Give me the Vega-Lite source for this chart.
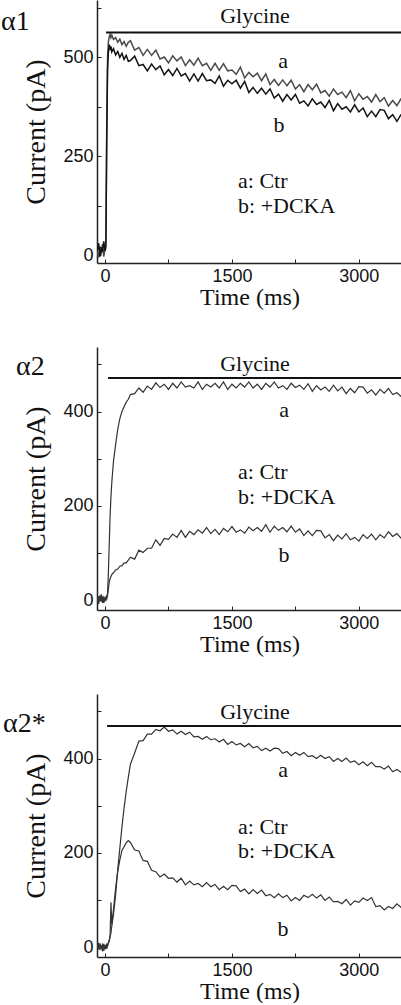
{
  "$schema": "https://vega.github.io/schema/vega-lite/v6.json",
  "padding": {"left": 0, "top": 0, "right": 0, "bottom": 0},
  "background": "white",
  "bounds": "flush",
  "spacing": 84,
  "config": {
    "view": {"stroke": null},
    "axis": {
      "grid": false, "tickSize": -4, "tickColor": "#222", "tickWidth": 1,
      "domainColor": "#222", "domainWidth": 1.5,
      "labelFont": "Liberation Sans, Arial, sans-serif", "labelFontSize": 18, "labelColor": "#111",
      "labelFlush": false, "labelOverlap": false,
      "titleFont": "Liberation Serif, Times New Roman, DejaVu Serif, serif", "titleFontWeight": "normal", "titleColor": "#111"
    },
    "axisX": {"labelPadding": 8, "titleFontSize": 24, "titlePadding": 0},
    "axisY": {"labelPadding": 8, "titleFontSize": 28, "titlePadding": 12}
  },
  "datasets": {
    "traces": [
      {"t":-90,"a1":8,"b1":12,"a2":4,"b2":-5,"a3":6,"b3":-3},
      {"t":-75,"a1":-6,"b1":30,"a2":-8,"b2":8,"a3":-5,"b3":9},
      {"t":-60,"a1":22,"b1":-4,"a2":10,"b2":-2,"a3":8,"b3":-6},
      {"t":-45,"a1":2,"b1":20,"a2":-3,"b2":12,"a3":-2,"b3":4},
      {"t":-30,"a1":28,"b1":8,"a2":8,"b2":-6,"a3":5,"b3":-9},
      {"t":-15,"a1":-4,"b1":35,"a2":-6,"b2":6,"a3":-8,"b3":7},
      {"t":0,"a1":18,"b1":10,"a2":5,"b2":-3,"a3":3,"b3":-2},
      {"t":10,"a1":30,"b1":20,"a2":2,"b2":8,"a3":-4,"b3":5},
      {"t":20,"a1":320,"b1":290,"a2":8,"b2":2,"a3":5,"b3":-4},
      {"t":30,"a1":500,"b1":470,"a2":15,"b2":10,"a3":2,"b3":6},
      {"t":40,"a1":540,"b1":515,"a2":60,"b2":25,"a3":8,"b3":10},
      {"t":50,"a1":552,"b1":532,"a2":120,"b2":38,"a3":12,"b3":15},
      {"t":60,"a1":558,"b1":522,"a2":180,"b2":46,"a3":22,"b3":25},
      {"t":70,"a1":550,"b1":528,"a2":220,"b2":50,"a3":30,"b3":95},
      {"t":80,"a1":556,"b1":514,"a2":250,"b2":54,"a3":45,"b3":48},
      {"t":100,"a1":545,"b1":522,"a2":295,"b2":58,"a3":70,"b3":80},
      {"t":125,"a1":550,"b1":506,"a2":330,"b2":64,"a3":110,"b3":125},
      {"t":150,"a1":538,"b1":515,"a2":362,"b2":66,"a3":165,"b3":160},
      {"t":175,"a1":546,"b1":500,"a2":385,"b2":72,"a3":210,"b3":185},
      {"t":200,"a1":532,"b1":510,"a2":400,"b2":73,"a3":255,"b3":205},
      {"t":225,"a1":540,"b1":495,"a2":410,"b2":79,"a3":295,"b3":213},
      {"t":250,"a1":528,"b1":505,"a2":420,"b2":79,"a3":330,"b3":221},
      {"t":275,"a1":538,"b1":490,"a2":426,"b2":85,"a3":360,"b3":226},
      {"t":300,"a1":542,"b1":492,"a2":436,"b2":91,"a3":388,"b3":222},
      {"t":350,"a1":518,"b1":503,"a2":438,"b2":87,"a3":412,"b3":206},
      {"t":400,"a1":525,"b1":479,"a2":450,"b2":106,"a3":437,"b3":204},
      {"t":450,"a1":505,"b1":482,"a2":441,"b2":101,"a3":438,"b3":184},
      {"t":500,"a1":520,"b1":466,"a2":454,"b2":110,"a3":452,"b3":182},
      {"t":550,"a1":505,"b1":483,"a2":447,"b2":110,"a3":452,"b3":163},
      {"t":600,"a1":518,"b1":469,"a2":461,"b2":128,"a3":462,"b3":160},
      {"t":650,"a1":496,"b1":478,"a2":451,"b2":116,"a3":459,"b3":149},
      {"t":700,"a1":501,"b1":456,"a2":458,"b2":131,"a3":467,"b3":155},
      {"t":750,"a1":486,"b1":469,"a2":447,"b2":129,"a3":458,"b3":146},
      {"t":800,"a1":504,"b1":454,"a2":460,"b2":140,"a3":461,"b3":147},
      {"t":850,"a1":491,"b1":472,"a2":450,"b2":133,"a3":452,"b3":138},
      {"t":900,"a1":501,"b1":453,"a2":463,"b2":148,"a3":458,"b3":146},
      {"t":950,"a1":479,"b1":459,"a2":452,"b2":133,"a3":451,"b3":132},
      {"t":1000,"a1":494,"b1":440,"a2":455,"b2":146,"a3":456,"b3":140},
      {"t":1050,"a1":480,"b1":458,"a2":450,"b2":139,"a3":446,"b3":132},
      {"t":1100,"a1":498,"b1":440,"a2":463,"b2":149,"a3":447,"b3":135},
      {"t":1150,"a1":479,"b1":459,"a2":447,"b2":142,"a3":441,"b3":128},
      {"t":1200,"a1":485,"b1":441,"a2":458,"b2":154,"a3":447,"b3":137},
      {"t":1250,"a1":467,"b1":443,"a2":452,"b2":141,"a3":440,"b3":128},
      {"t":1300,"a1":485,"b1":434,"a2":460,"b2":150,"a3":442,"b3":133},
      {"t":1350,"a1":467,"b1":453,"a2":450,"b2":139,"a3":435,"b3":122},
      {"t":1400,"a1":484,"b1":427,"a2":463,"b2":152,"a3":441,"b3":129},
      {"t":1450,"a1":466,"b1":442,"a2":447,"b2":145,"a3":430,"b3":122},
      {"t":1500,"a1":468,"b1":433,"a2":458,"b2":156,"a3":436,"b3":131},
      {"t":1550,"a1":457,"b1":442,"a2":450,"b2":144,"a3":429,"b3":130},
      {"t":1600,"a1":475,"b1":422,"a2":460,"b2":149,"a3":432,"b3":118},
      {"t":1650,"a1":448,"b1":439,"a2":452,"b2":142,"a3":425,"b3":123},
      {"t":1700,"a1":462,"b1":411,"a2":463,"b2":155,"a3":432,"b3":113},
      {"t":1750,"a1":451,"b1":424,"a2":450,"b2":147,"a3":423,"b3":122},
      {"t":1800,"a1":460,"b1":409,"a2":458,"b2":154,"a3":426,"b3":114},
      {"t":1850,"a1":441,"b1":422,"a2":447,"b2":146,"a3":417,"b3":121},
      {"t":1900,"a1":458,"b1":407,"a2":460,"b2":160,"a3":422,"b3":109},
      {"t":1950,"a1":431,"b1":420,"a2":452,"b2":144,"a3":416,"b3":112},
      {"t":2000,"a1":444,"b1":397,"a2":463,"b2":157,"a3":422,"b3":105},
      {"t":2050,"a1":429,"b1":407,"a2":450,"b2":148,"a3":421,"b3":113},
      {"t":2100,"a1":443,"b1":389,"a2":455,"b2":154,"a3":411,"b3":105},
      {"t":2150,"a1":428,"b1":406,"a2":447,"b2":145,"a3":415,"b3":110},
      {"t":2200,"a1":442,"b1":392,"a2":460,"b2":157,"a3":406,"b3":98},
      {"t":2250,"a1":420,"b1":406,"a2":451,"b2":144,"a3":413,"b3":105},
      {"t":2300,"a1":431,"b1":384,"a2":456,"b2":151,"a3":407,"b3":99},
      {"t":2350,"a1":413,"b1":390,"a2":447,"b2":137,"a3":413,"b3":110},
      {"t":2400,"a1":431,"b1":377,"a2":459,"b2":147,"a3":404,"b3":105},
      {"t":2450,"a1":418,"b1":395,"a2":443,"b2":137,"a3":406,"b3":112},
      {"t":2500,"a1":432,"b1":381,"a2":455,"b2":148,"a3":400,"b3":104},
      {"t":2550,"a1":410,"b1":387,"a2":446,"b2":147,"a3":407,"b3":111},
      {"t":2600,"a1":416,"b1":373,"a2":452,"b2":132,"a3":400,"b3":99},
      {"t":2650,"a1":402,"b1":391,"a2":443,"b2":139,"a3":404,"b3":106},
      {"t":2700,"a1":420,"b1":365,"a2":456,"b2":126,"a3":394,"b3":96},
      {"t":2750,"a1":406,"b1":383,"a2":444,"b2":138,"a3":400,"b3":97},
      {"t":2800,"a1":412,"b1":369,"a2":452,"b2":130,"a3":394,"b3":92},
      {"t":2850,"a1":398,"b1":375,"a2":438,"b2":141,"a3":401,"b3":101},
      {"t":2900,"a1":416,"b1":362,"a2":449,"b2":128,"a3":392,"b3":89},
      {"t":2950,"a1":390,"b1":380,"a2":440,"b2":133,"a3":395,"b3":98},
      {"t":3000,"a1":408,"b1":362,"a2":453,"b2":125,"a3":387,"b3":95},
      {"t":3050,"a1":394,"b1":372,"a2":452,"b2":139,"a3":393,"b3":104},
      {"t":3100,"a1":401,"b1":350,"a2":439,"b2":131,"a3":385,"b3":99},
      {"t":3150,"a1":387,"b1":364,"a2":446,"b2":140,"a3":392,"b3":105},
      {"t":3200,"a1":406,"b1":350,"a2":435,"b2":128,"a3":383,"b3":86},
      {"t":3250,"a1":388,"b1":368,"a2":447,"b2":139,"a3":383,"b3":88},
      {"t":3300,"a1":398,"b1":366,"a2":439,"b2":132,"a3":378,"b3":79},
      {"t":3350,"a1":377,"b1":345,"a2":449,"b2":145,"a3":384,"b3":86},
      {"t":3400,"a1":391,"b1":355,"a2":436,"b2":135,"a3":372,"b3":82},
      {"t":3450,"a1":378,"b1":338,"a2":440,"b2":141,"a3":377,"b3":92},
      {"t":3500,"a1":396,"b1":356,"a2":432,"b2":131,"a3":371,"b3":84}
    ],
    "bars": [
      {"panel":"p1","t0":12,"t1":3500,"v":563},
      {"panel":"p2","t0":36,"t1":3500,"v":471},
      {"panel":"p3","t0":24,"t1":3500,"v":469}
    ],
    "notes": [
      {"panel":"p1","kind":"h","text":"α1","t":-1230,"v":569},
      {"panel":"p1","kind":"c","text":"Glycine","t":1773,"v":588},
      {"panel":"p1","kind":"c","text":"a","t":2104,"v":473},
      {"panel":"p1","kind":"c","text":"b","t":2057,"v":312},
      {"panel":"p1","kind":"l","text":"a: Ctr","t":1572,"v":170},
      {"panel":"p1","kind":"l","text":"b: +DCKA","t":1572,"v":106},
      {"panel":"p2","kind":"h","text":"α2","t":-1052,"v":478},
      {"panel":"p2","kind":"c","text":"Glycine","t":1773,"v":487},
      {"panel":"p2","kind":"c","text":"a","t":2116,"v":388},
      {"panel":"p2","kind":"c","text":"b","t":2116,"v":81},
      {"panel":"p2","kind":"l","text":"a: Ctr","t":1572,"v":258},
      {"panel":"p2","kind":"l","text":"b: +DCKA","t":1572,"v":204},
      {"panel":"p3","kind":"h","text":"α2*","t":-1206,"v":456},
      {"panel":"p3","kind":"c","text":"Glycine","t":1773,"v":484},
      {"panel":"p3","kind":"c","text":"a","t":2104,"v":361},
      {"panel":"p3","kind":"c","text":"b","t":2104,"v":23},
      {"panel":"p3","kind":"l","text":"a: Ctr","t":1572,"v":240},
      {"panel":"p3","kind":"l","text":"b: +DCKA","t":1572,"v":189}
    ]
  },
  "vconcat": [
    {
      "width": 305, "height": 263,
      "encoding": {
        "x": {"field": "t", "type": "quantitative", "scale": {"domain": [-95, 3510], "nice": false, "zero": false},
              "axis": {"title": "Time (ms)", "values": [0, 750, 1500, 2250, 3000], "format": "d", "labelExpr": "datum.value % 1500 === 0 ? datum.label : ''"}}
      },
      "layer": [
        {"data": {"name": "traces"}, "mark": {"type": "line", "color": "#4a4a4a", "strokeWidth": 1.5, "clip": true},
         "encoding": {"y": {"field": "a1", "type": "quantitative", "scale": {"domain": [-20, 645], "nice": false, "zero": false},
           "axis": {"title": "Current (pA)", "values": [0, 125, 250, 375, 500, 625], "labelExpr": "datum.value % 250 === 0 ? datum.label : ''",
                    "labelFontSize": {"condition": {"test": "datum.value % 250 !== 0", "value": 0}, "value": 18}}}}},
        {"data": {"name": "traces"}, "mark": {"type": "line", "color": "#141414", "strokeWidth": 1.5, "clip": true},
         "encoding": {"y": {"field": "b1", "type": "quantitative"}}},
        {"data": {"name": "bars"}, "transform": [{"filter": "datum.panel === 'p1'"}], "mark": {"type": "rule", "color": "#111", "strokeWidth": 2},
         "encoding": {"x": {"field": "t0", "type": "quantitative"}, "x2": {"field": "t1"}, "y": {"field": "v", "type": "quantitative"}}},
        {"data": {"name": "notes"}, "transform": [{"filter": "datum.panel === 'p1' && datum.kind === 'c'"}], "mark": {"type": "text", "font": "Liberation Serif, Times New Roman, DejaVu Serif, serif", "fontSize": 22, "color": "#111", "align": "center", "baseline": "alphabetic"},
         "encoding": {"y": {"field": "v", "type": "quantitative"}, "text": {"field": "text"}}},
        {"data": {"name": "notes"}, "transform": [{"filter": "datum.panel === 'p1' && datum.kind === 'l'"}], "mark": {"type": "text", "font": "Liberation Serif, Times New Roman, DejaVu Serif, serif", "fontSize": 22, "color": "#111", "align": "left", "baseline": "alphabetic"},
         "encoding": {"y": {"field": "v", "type": "quantitative"}, "text": {"field": "text"}}},
        {"data": {"name": "notes"}, "transform": [{"filter": "datum.panel === 'p1' && datum.kind === 'h'"}], "mark": {"type": "text", "font": "Liberation Serif, Times New Roman, DejaVu Serif, serif", "fontSize": 28, "color": "#111", "align": "left", "baseline": "alphabetic", "clip": false},
         "encoding": {"y": {"field": "v", "type": "quantitative"}, "text": {"field": "text"}}}
      ]
    },
    {
      "width": 305, "height": 263,
      "encoding": {
        "x": {"field": "t", "type": "quantitative", "scale": {"domain": [-95, 3510], "nice": false, "zero": false},
              "axis": {"title": "Time (ms)", "values": [0, 750, 1500, 2250, 3000], "format": "d", "labelExpr": "datum.value % 1500 === 0 ? datum.label : ''"}}
      },
      "layer": [
        {"data": {"name": "traces"}, "mark": {"type": "line", "color": "#333", "strokeWidth": 1.2, "clip": true},
         "encoding": {"y": {"field": "a2", "type": "quantitative", "scale": {"domain": [-21, 537], "nice": false, "zero": false},
           "axis": {"title": "Current (pA)", "values": [0, 100, 200, 300, 400, 500], "labelExpr": "datum.value % 200 === 0 ? datum.label : ''"}}}},
        {"data": {"name": "traces"}, "mark": {"type": "line", "color": "#333", "strokeWidth": 1.2, "clip": true},
         "encoding": {"y": {"field": "b2", "type": "quantitative"}}},
        {"data": {"name": "bars"}, "transform": [{"filter": "datum.panel === 'p2'"}], "mark": {"type": "rule", "color": "#111", "strokeWidth": 2},
         "encoding": {"x": {"field": "t0", "type": "quantitative"}, "x2": {"field": "t1"}, "y": {"field": "v", "type": "quantitative"}}},
        {"data": {"name": "notes"}, "transform": [{"filter": "datum.panel === 'p2' && datum.kind === 'c'"}], "mark": {"type": "text", "font": "Liberation Serif, Times New Roman, DejaVu Serif, serif", "fontSize": 22, "color": "#111", "align": "center", "baseline": "alphabetic"},
         "encoding": {"y": {"field": "v", "type": "quantitative"}, "text": {"field": "text"}}},
        {"data": {"name": "notes"}, "transform": [{"filter": "datum.panel === 'p2' && datum.kind === 'l'"}], "mark": {"type": "text", "font": "Liberation Serif, Times New Roman, DejaVu Serif, serif", "fontSize": 22, "color": "#111", "align": "left", "baseline": "alphabetic"},
         "encoding": {"y": {"field": "v", "type": "quantitative"}, "text": {"field": "text"}}},
        {"data": {"name": "notes"}, "transform": [{"filter": "datum.panel === 'p2' && datum.kind === 'h'"}], "mark": {"type": "text", "font": "Liberation Serif, Times New Roman, DejaVu Serif, serif", "fontSize": 28, "color": "#111", "align": "left", "baseline": "alphabetic", "clip": false},
         "encoding": {"y": {"field": "v", "type": "quantitative"}, "text": {"field": "text"}}}
      ]
    },
    {
      "width": 305, "height": 263,
      "encoding": {
        "x": {"field": "t", "type": "quantitative", "scale": {"domain": [-95, 3510], "nice": false, "zero": false},
              "axis": {"title": "Time (ms)", "values": [0, 750, 1500, 2250, 3000], "format": "d", "labelExpr": "datum.value % 1500 === 0 ? datum.label : ''"}}
      },
      "layer": [
        {"data": {"name": "traces"}, "mark": {"type": "line", "color": "#333", "strokeWidth": 1.2, "clip": true},
         "encoding": {"y": {"field": "a3", "type": "quantitative", "scale": {"domain": [-21, 537], "nice": false, "zero": false},
           "axis": {"title": "Current (pA)", "values": [0, 100, 200, 300, 400, 500], "labelExpr": "datum.value % 200 === 0 ? datum.label : ''"}}}},
        {"data": {"name": "traces"}, "mark": {"type": "line", "color": "#333", "strokeWidth": 1.2, "clip": true},
         "encoding": {"y": {"field": "b3", "type": "quantitative"}}},
        {"data": {"name": "bars"}, "transform": [{"filter": "datum.panel === 'p3'"}], "mark": {"type": "rule", "color": "#111", "strokeWidth": 2},
         "encoding": {"x": {"field": "t0", "type": "quantitative"}, "x2": {"field": "t1"}, "y": {"field": "v", "type": "quantitative"}}},
        {"data": {"name": "notes"}, "transform": [{"filter": "datum.panel === 'p3' && datum.kind === 'c'"}], "mark": {"type": "text", "font": "Liberation Serif, Times New Roman, DejaVu Serif, serif", "fontSize": 22, "color": "#111", "align": "center", "baseline": "alphabetic"},
         "encoding": {"y": {"field": "v", "type": "quantitative"}, "text": {"field": "text"}}},
        {"data": {"name": "notes"}, "transform": [{"filter": "datum.panel === 'p3' && datum.kind === 'l'"}], "mark": {"type": "text", "font": "Liberation Serif, Times New Roman, DejaVu Serif, serif", "fontSize": 22, "color": "#111", "align": "left", "baseline": "alphabetic"},
         "encoding": {"y": {"field": "v", "type": "quantitative"}, "text": {"field": "text"}}},
        {"data": {"name": "notes"}, "transform": [{"filter": "datum.panel === 'p3' && datum.kind === 'h'"}], "mark": {"type": "text", "font": "Liberation Serif, Times New Roman, DejaVu Serif, serif", "fontSize": 28, "color": "#111", "align": "left", "baseline": "alphabetic", "clip": false},
         "encoding": {"y": {"field": "v", "type": "quantitative"}, "text": {"field": "text"}}}
      ]
    }
  ]
}
